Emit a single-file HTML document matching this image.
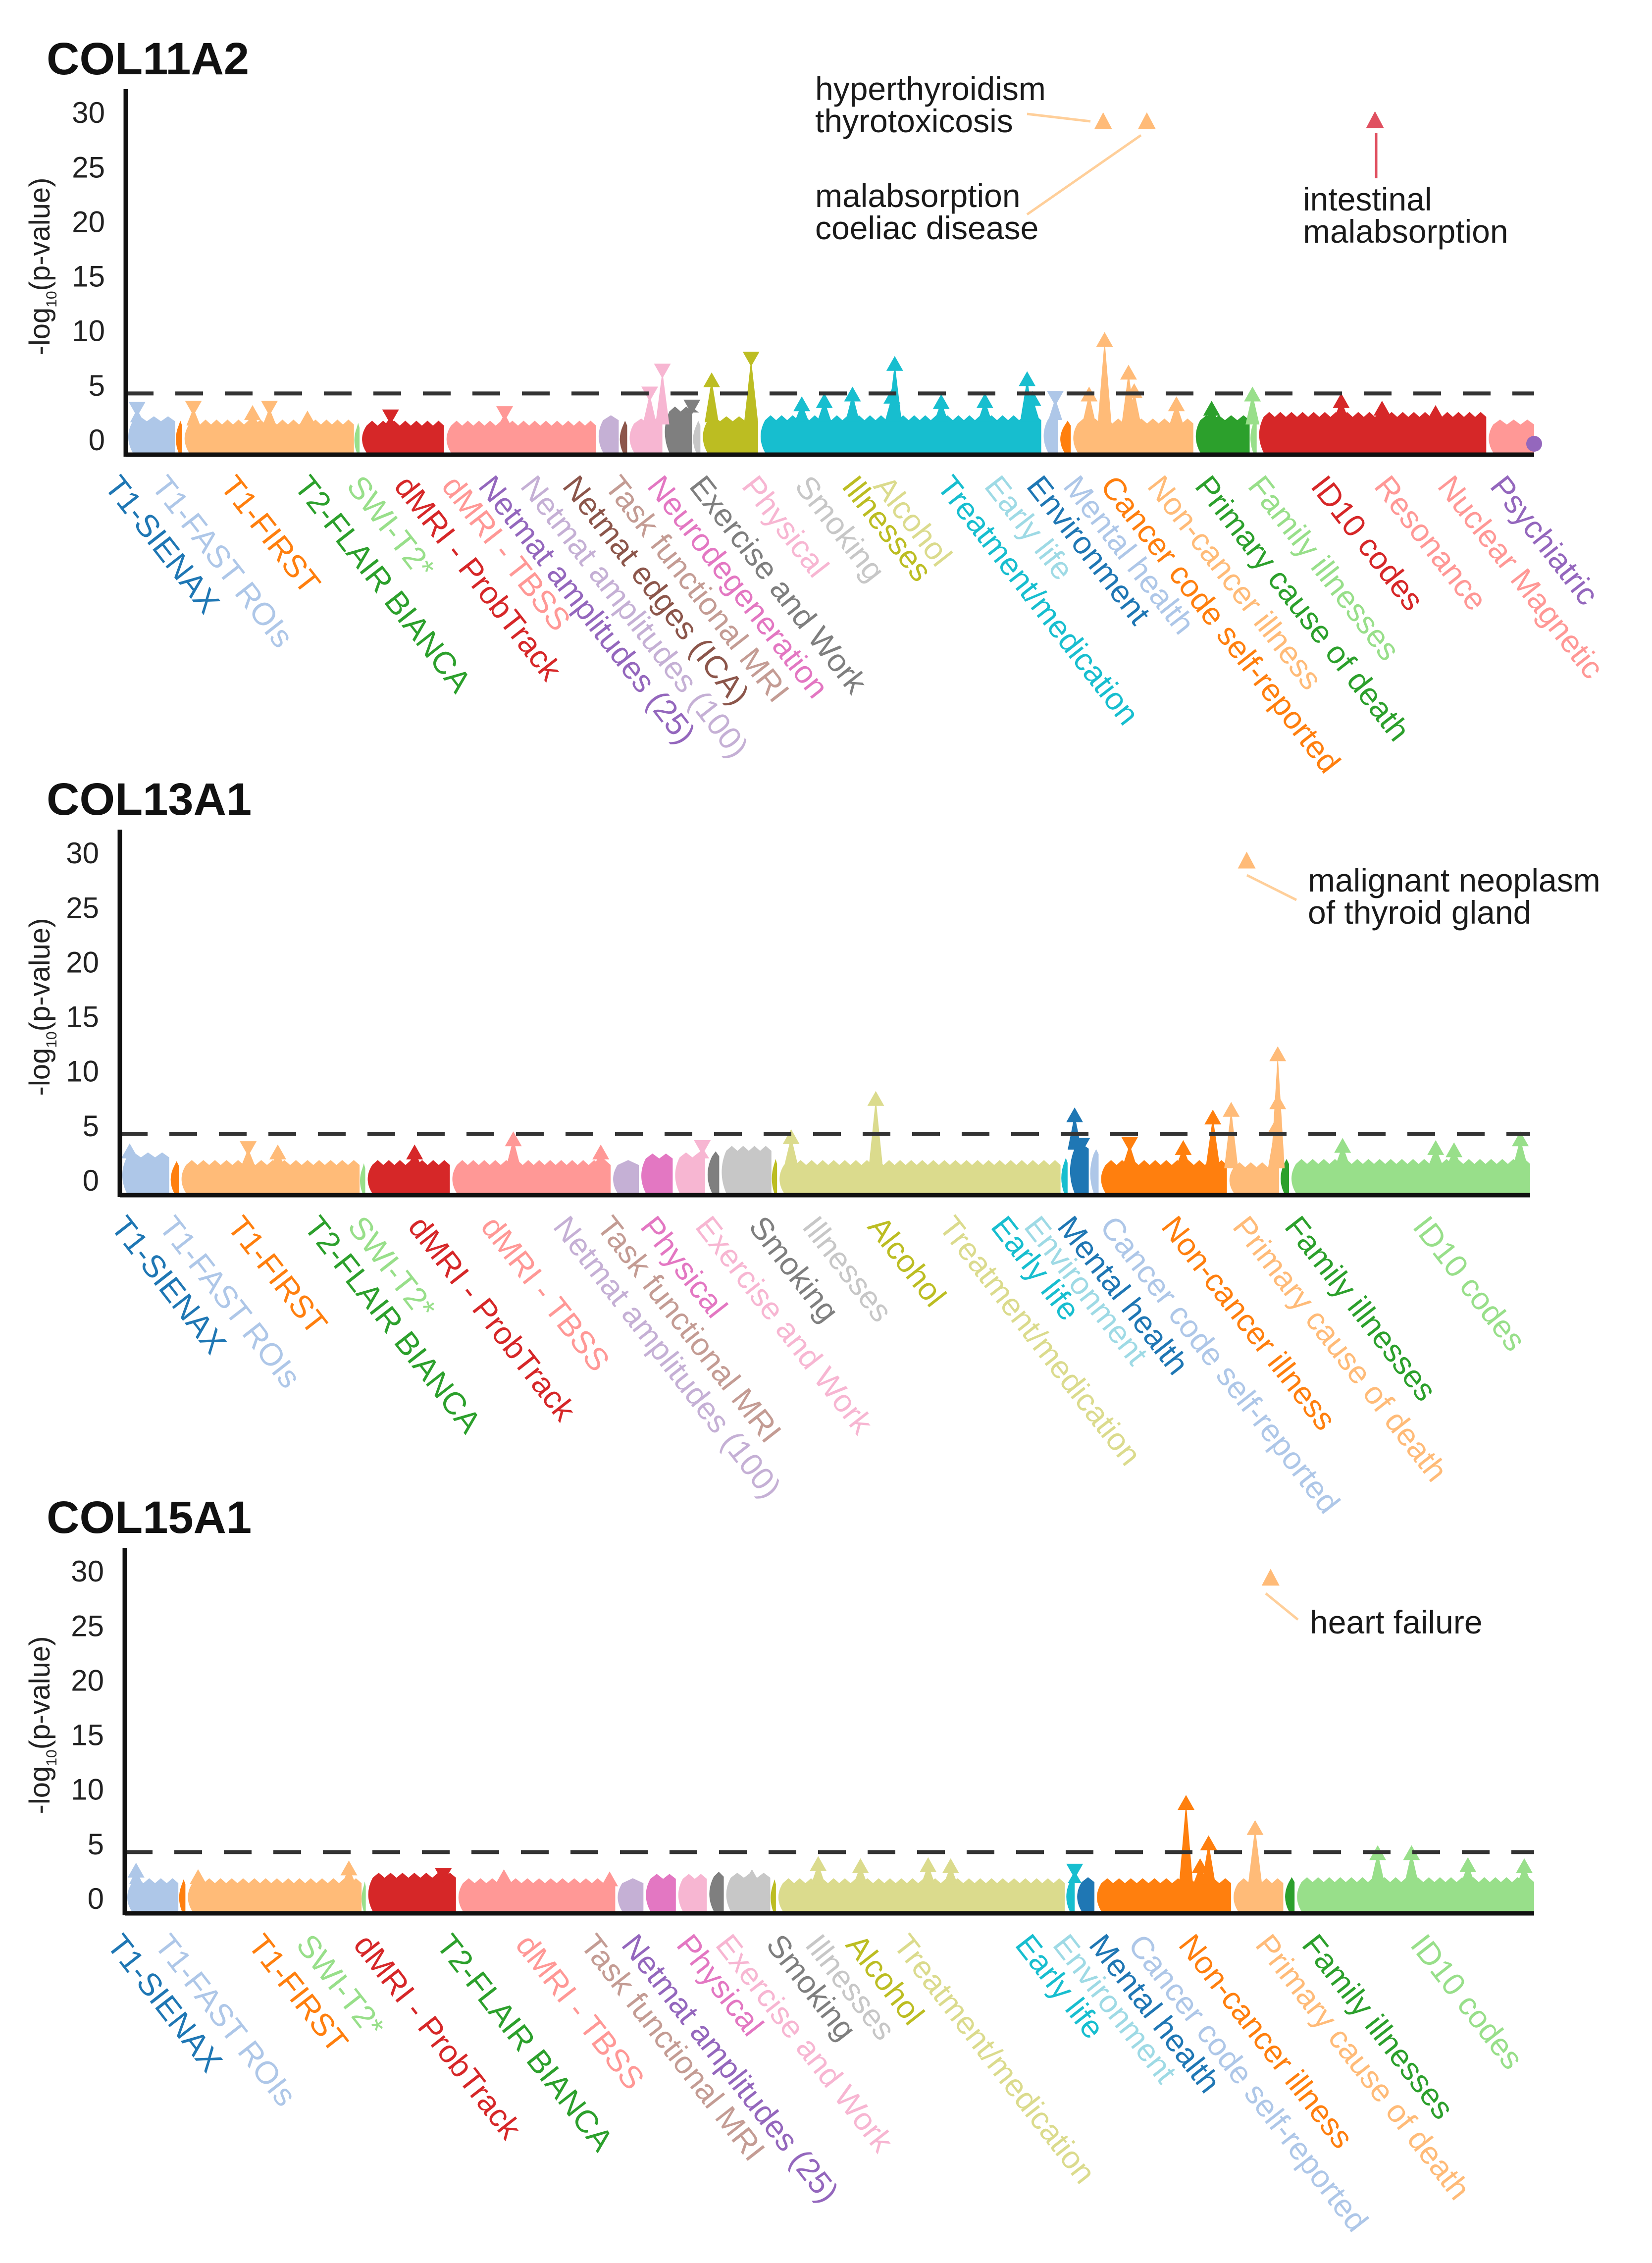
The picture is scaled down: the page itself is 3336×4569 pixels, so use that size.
<!DOCTYPE html>
<html><head><meta charset="utf-8">
<style>
html,body{margin:0;padding:0;background:#fff;}
svg{display:block;}
text{font-family:"Liberation Sans",Arial,sans-serif;}
</style></head>
<body>
<svg id="fig" width="3336" height="4569" viewBox="0 0 3336 4569" xmlns="http://www.w3.org/2000/svg"></svg>
<script>
// ---------- DATA ----------
// segments: [startIndex, endIndex, color, bodyLevel(-log10 p)]
const p1Segments = [[0,35,"#aec7e8",1.7],[35,40,"#ff7f0e",1.3],[40,162,"#ffbb78",1.4],[162,166,"#98df8a",1.1],[166,226,"#d62728",1.3],[226,334,"#ff9896",1.3],[334,350,"#c5b0d5",1.8],[350,356,"#8c564b",1.3],[356,381,"#f7b6d2",1.5],[381,402,"#7f7f7f",2.6],[402,408,"#c7c7c7",1.3],[408,449,"#bcbd22",1.7],[449,650,"#17becf",1.8],[650,662,"#aec7e8",1.9],[662,671,"#ff7f0e",1.3],[671,758,"#ffbb78",1.5],[758,798,"#2ca02c",1.8],[798,803,"#98df8a",1.5],[803,966,"#d62728",2.1],[966,1000,"#ff9896",1.4]];
// spikes: [index, value, direction(1 up / -1 down)]
const p1Spikes = [[8,2.8,-1],[48,2.9,-1],[90,2.5,1],[102,2.9,-1],[129,2.0,1],[188,2.1,-1],[269,2.4,-1],[372,4.2,-1],[381,6.3,-1],[402,3.0,-1],[416,5.5,1],[444,7.4,-1],[480,3.3,1],[496,3.6,1],[516,4.2,1],[544,4.0,1],[546,7.0,1],[579,3.5,1],[610,3.6,1],[640,5.6,1],[644,3.8,1],[660,3.8,-1],[684,4.2,1],[695,9.2,1],[712,6.2,1],[716,4.5,1],[746,3.3,1],[771,2.9,1],[800,4.2,1],[863,3.6,1],[892,2.9,1],[930,2.5,1]];
const p1Hits = [[694,29.2,"#ffbb78"],[725,29.2,"#ffbb78"],[887,29.3,"#e05060"]];

const p2Segments = [[0,35,"#aec7e8",2.1],[35,42,"#ff7f0e",1.3],[42,170,"#ffbb78",1.4],[170,174,"#98df8a",1.1],[174,234,"#d62728",1.4],[234,348,"#ff9896",1.4],[348,368,"#c5b0d5",1.4],[368,392,"#e377c2",2.0],[392,415,"#f7b6d2",2.1],[415,425,"#7f7f7f",2.2],[425,462,"#c7c7c7",2.7],[462,466,"#bcbd22",1.5],[466,667,"#dbdb8d",1.4],[667,672,"#17becf",1.6],[672,687,"#1f77b4",2.9],[687,694,"#aec7e8",2.4],[694,785,"#ff7f0e",1.4],[785,822,"#ffbb78",1.2],[822,829,"#2ca02c",1.5],[829,1000,"#98df8a",1.5]];
const p2Spikes = [[7,2.7,1],[91,2.9,-1],[112,2.6,1],[209,2.6,1],[279,3.8,1],[341,2.6,1],[413,3.0,-1],[476,4.0,1],[536,7.5,1],[677,6.0,1],[682,3.2,-1],[716,3.3,-1],[754,3.0,1],[775,5.8,1],[788,6.5,1],[819,4.8,1],[821,7.2,1],[821,11.6,1],[867,3.2,1],[933,3.0,1],[946,2.8,1],[993,3.8,1]];
const p2Hits = [[799,29.3,"#ffbb78"]];

const p3Segments = [[0,38,"#aec7e8",1.4],[38,43,"#ff7f0e",1.3],[43,168,"#ffbb78",1.4],[168,171,"#98df8a",1.1],[171,235,"#d62728",1.9],[235,348,"#ff9896",1.4],[348,368,"#c5b0d5",1.4],[368,391,"#e377c2",1.8],[391,413,"#f7b6d2",1.8],[413,425,"#7f7f7f",2.0],[425,458,"#c7c7c7",1.9],[458,462,"#bcbd22",1.3],[462,667,"#dbdb8d",1.4],[667,674,"#17becf",1.5],[674,688,"#1f77b4",1.5],[688,785,"#ff7f0e",1.4],[785,822,"#ffbb78",1.4],[822,830,"#2ca02c",1.5],[830,1000,"#98df8a",1.5]];
const p3Spikes = [[8,2.6,1],[52,2.0,1],[159,2.8,1],[226,2.1,-1],[269,2.0,1],[344,1.8,1],[445,2.0,1],[492,3.2,1],[522,3.0,1],[570,3.1,1],[586,3.0,1],[674,2.5,-1],[753,8.8,1],[763,3.0,1],[769,5.1,1],[802,6.5,1],[889,4.2,1],[913,4.2,1],[953,3.1,1],[993,3.0,1]];
const p3Hits = [[813,29.4,"#ffbb78"]];

const yTicks = [0,5,10,15,20,25,30];
const threshold = 4.25;

// category labels: [text, color, x-position(px)]
const p1Labels = [["T1-SIENAX","#1f77b4",245],["T1-FAST ROIs","#aec7e8",340],["T1-FIRST","#ff7f0e",479],["T2-FLAIR BIANCA","#2ca02c",628],["SWI-T2*","#98df8a",734],["dMRI - ProbTrack","#d62728",830],["dMRI - TBSS","#ff9896",926],["Netmat amplitudes (25)","#9467bd",1000],["Netmat amplitudes (100)","#c5b0d5",1085],["Netmat edges (ICA)","#8c564b",1170],["Task functional MRI","#c49c94",1255],["Neurodegeneration","#e377c2",1341],["Exercise and Work","#7f7f7f",1426],["Physical","#f7b6d2",1532],["Smoking","#c7c7c7",1639],["Illnesses","#bcbd22",1734],["Alcohol","#dbdb8d",1798],["Treatment/medication","#17becf",1926],["Early life","#9edae5",2022],["Environment","#1f77b4",2107],["Mental health","#aec7e8",2181],["Cancer code self-reported","#ff7f0e",2256],["Non-cancer illness","#ffbb78",2351],["Primary cause of death","#2ca02c",2447],["Family illnesses","#98df8a",2554],["ID10 codes","#d62728",2681],["Resonance","#ff9896",2809],["Nuclear Magnetic","#ff9896",2937],["Psychiatric","#9467bd",3043]];
const p2Labels = [["T1-SIENAX","#1f77b4",258],["T1-FAST ROIs","#aec7e8",355],["T1-FIRST","#ff7f0e",493],["T2-FLAIR BIANCA","#2ca02c",648],["SWI-T2*","#98df8a",736],["dMRI - ProbTrack","#d62728",858],["dMRI - TBSS","#ff9896",1005],["Netmat amplitudes (100)","#c5b0d5",1151],["Task functional MRI","#c49c94",1239],["Physical","#e377c2",1327],["Exercise and Work","#f7b6d2",1438],["Smoking","#7f7f7f",1546],["Illnesses","#c7c7c7",1654],["Alcohol","#bcbd22",1786],["Treatment/medication","#dbdb8d",1930],["Early life","#17becf",2035],["Environment","#9edae5",2102],["Mental health","#1f77b4",2169],["Cancer code self-reported","#aec7e8",2255],["Non-cancer illness","#ff7f0e",2379],["Primary cause of death","#ffbb78",2523],["Family illnesses","#2ca02c",2628],["ID10 codes","#98df8a",2887]];
const p3Labels = [["T1-SIENAX","#1f77b4",250],["T1-FAST ROIs","#aec7e8",346],["T1-FIRST","#ff7f0e",535],["SWI-T2*","#98df8a",632],["dMRI - ProbTrack","#d62728",748],["T2-FLAIR BIANCA","#2ca02c",915],["dMRI - TBSS","#ff9896",1075],["Task functional MRI","#c49c94",1206],["Netmat amplitudes (25)","#9467bd",1289],["Physical","#e377c2",1400],["Exercise and Work","#f7b6d2",1479],["Smoking","#7f7f7f",1581],["Illnesses","#c7c7c7",1660],["Alcohol","#bcbd22",1742],["Treatment/medication","#dbdb8d",1838],["Early life","#17becf",2084],["Environment","#9edae5",2160],["Mental health","#1f77b4",2233],["Cancer code self-reported","#aec7e8",2312],["Non-cancer illness","#ff7f0e",2414],["Primary cause of death","#ffbb78",2569],["Family illnesses","#2ca02c",2663],["ID10 codes","#98df8a",2882]];

// ---------- RENDER ----------
const NS = "http://www.w3.org/2000/svg";
const svg = document.getElementById("fig");
function mk(tag, attrs, parent){
  const e = document.createElementNS(NS, tag);
  for (const k in attrs) e.setAttribute(k, attrs[k]);
  (parent||svg).appendChild(e);
  return e;
}
const panels = [
  {title:"COL11A2", zero:888, left:254, right:3098, segs:p1Segments, spikes:p1Spikes, hits:p1Hits, labels:p1Labels, endDot:true},
  {title:"COL13A1", zero:2383, left:242, right:3090, segs:p2Segments, spikes:p2Spikes, hits:p2Hits, labels:p2Labels, endDot:false},
  {title:"COL15A1", zero:3833, left:252, right:3098, segs:p3Segments, spikes:p3Spikes, hits:p3Hits, labels:p3Labels, endDot:false}
];
const UNIT = 22.03;

panels.forEach((P, pi) => {
  const g = mk("g", {});
  
  
  const xS = i => P.left + (i/1000)*(P.right - P.left);
  const yS = v => P.zero - v*UNIT;
  const axisY = P.zero + 30;

  const t = mk("text", {x:94, y:P.zero-738, "font-size":92, "font-weight":"bold", fill:"#111"}, g);
  t.textContent = P.title;
  
  

  const yl = mk("text", {transform:`translate(100,${P.zero-350}) rotate(-90)`, "text-anchor":"middle", "font-size":58, fill:"#222"}, g);
  
  
  const s1 = mk("tspan", {}, yl); s1.textContent = "-log";
  const s2 = mk("tspan", {"font-size":30, dy:14}, yl); s2.textContent = "10";
  const s3 = mk("tspan", {dy:-14}, yl); s3.textContent = "(p-value)";

  yTicks.forEach(v => {
    const tl = mk("text", {x:P.left-42, y:yS(v)+21, "text-anchor":"end", "font-size":60, fill:"#222"}, g);
    tl.textContent = v;
    
    
  });

  const segColorAt = i => { for (const s of P.segs) if (i >= s[0] && i <= s[1]) return s[2]; return "#999"; };
  const segBodyAt = i => { for (const s of P.segs) if (i >= s[0] && i <= s[1]) return s[3]; return 1; };
  P.segs.forEach(s => {
    const x0 = xS(s[0]), x1 = xS(s[1]);
    const yt = yS(s[3]), yb = axisY - 4;
    const r = Math.min(14, (x1-x0)/2);
    // jagged top: small teeth along body
    let d = `M${x0+r},${yt}`;
    const n = Math.max(1, Math.floor((x1-x0-r)/22));
    const step = (x1-x0-r)/n;
    for (let k=0;k<n;k++){
      const xa = x0+r+k*step;
      d += ` L${xa+step/2},${yt-10} L${xa+step},${yt}`;
    }
    d += ` L${x1},${yb} L${x0+r},${yb} Q${x0-4},${(yt+yb)/2} ${x0+r},${yt} Z`;
    const p = mk("path", {d:d, fill:s[2]}, g);
    
    
  });
  P.spikes.forEach(sp => {
    const x = xS(sp[0]), col = segColorAt(sp[0]);
    const yb = yS(segBodyAt(sp[0])), yv = yS(sp[1]);
    const sh = mk("polygon", {points:`${x-14},${yb+2} ${x},${yv} ${x+14},${yb+2}`, fill:col}, g);
    
    
    const h = 30, w = 17;
    const pts = sp[2] > 0 ? `${x-w},${yv+h/2} ${x},${yv-h/2} ${x+w},${yv+h/2}` : `${x-w},${yv-h/2} ${x},${yv+h/2} ${x+w},${yv-h/2}`;
    const m = mk("polygon", {points:pts, fill:col}, g);
    
    
  });
  if (P.endDot) {
    const d = mk("circle", {cx:xS(1000), cy:axisY-22, r:16, fill:"#9467bd"}, g);
    
    
  }
  P.hits.forEach(hh => {
    const x = xS(hh[0]), yv = yS(hh[1]);
    const m = mk("polygon", {points:`${x-18},${yv+16} ${x},${yv-18} ${x+18},${yv+16}`, fill:hh[2]}, g);
    
    
  });

  const dl = mk("line", {x1:P.left, x2:P.right, y1:yS(threshold), y2:yS(threshold), stroke:"#333", "stroke-width":8, "stroke-dasharray":"56 44"}, g);
  
  
  const ya = mk("line", {x1:P.left, x2:P.left, y1:P.zero-708, y2:axisY+4, stroke:"#111", "stroke-width":9}, g);
  
  
  const xa = mk("line", {x1:P.left, x2:P.right, y1:axisY, y2:axisY, stroke:"#111", "stroke-width":9}, g);
  
  

  P.labels.forEach(L => {
    const tx = mk("text", {transform:`translate(${L[2]},${axisY+36}) rotate(52)`, dy:"0.72em", "font-size":64, fill:L[1]}, g);
    tx.textContent = L[0];
    
    
  });
});

function note(x, y, txt, name){
  const e = mk("text", {x:x, y:y, "font-size":66, fill:"#1a1a1a"});
  e.textContent = txt;
  
  
}
function lead(x1,y1,x2,y2,col){
  const e = mk("line", {x1:x1,y1:y1,x2:x2,y2:y2,stroke:col,"stroke-width":5});
  
  
}
note(1646,202,"hyperthyroidism","annotation-hyperthyroidism");
note(1646,267,"thyrotoxicosis","annotation-thyrotoxicosis");
note(1646,418,"malabsorption","annotation-malabsorption");
note(1646,483,"coeliac disease","annotation-coeliac");
note(2631,425,"intestinal","annotation-intestinal");
note(2631,490,"malabsorption","annotation-intestinal-malabsorption");
lead(2074,230,2202,245,"#ffcf9a");
lead(2074,433,2304,273,"#ffcf9a");
lead(2779,360,2779,268,"#e05060");
note(2641,1800,"malignant neoplasm","annotation-malignant-neoplasm");
note(2641,1865,"of thyroid gland","annotation-thyroid-gland");
lead(2518,1767,2618,1817,"#ffcf9a");
note(2645,3298,"heart failure","annotation-heart-failure");
lead(2556,3217,2621,3270,"#ffcf9a");
</script>
</body></html>
